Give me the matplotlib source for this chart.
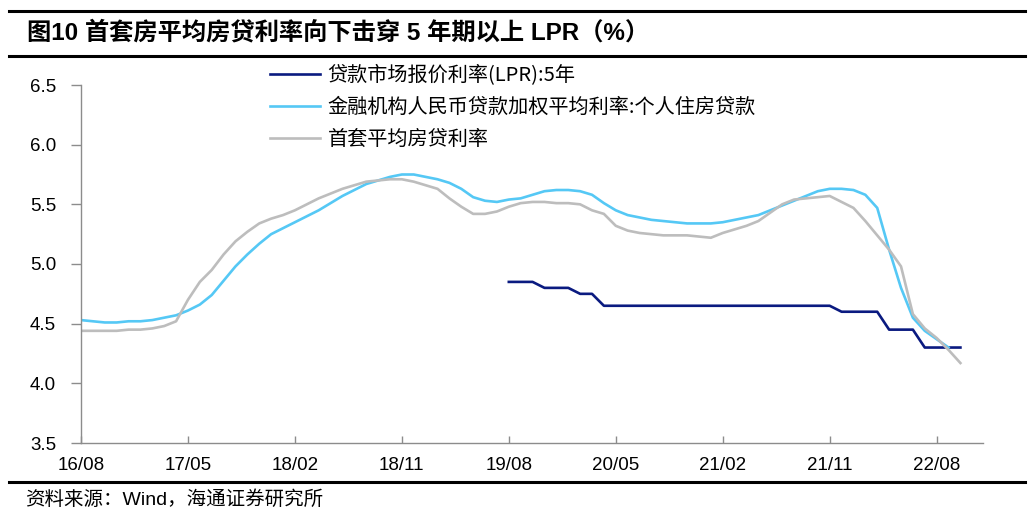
import numpy as np
import matplotlib
matplotlib.use('Agg')
import matplotlib.pyplot as plt
from matplotlib.lines import Line2D

plt.rcParams['font.family'] = ['Liberation Sans', 'Noto Sans CJK SC', 'DejaVu Sans']

# 月份序号：0 = 2016/08
tick_pos = [0, 9, 18, 27, 36, 45, 54, 63, 72]
tick_labels = ['16/08', '17/05', '18/02', '18/11', '19/08', '20/05', '21/02', '21/11', '22/08']

# 首套平均房贷利率 2016/08 - 2022/10
first_home = [4.44, 4.44, 4.44, 4.44, 4.45, 4.45, 4.46, 4.48, 4.52, 4.70,
              4.85, 4.95, 5.08, 5.19, 5.27, 5.34, 5.38, 5.41, 5.45, 5.50,
              5.55, 5.59, 5.63, 5.66, 5.69, 5.70, 5.71, 5.71, 5.69, 5.66,
              5.63, 5.55, 5.48, 5.42, 5.42, 5.44, 5.48, 5.51, 5.52, 5.52,
              5.51, 5.51, 5.50, 5.45, 5.42, 5.32, 5.28, 5.26, 5.25, 5.24,
              5.24, 5.24, 5.23, 5.22, 5.26, 5.29, 5.32, 5.36, 5.43, 5.50,
              5.54, 5.55, 5.56, 5.57, 5.52, 5.47, 5.36, 5.24, 5.12, 4.98,
              4.58, 4.46, 4.38, 4.28, 4.17]

# 金融机构人民币贷款加权平均利率:个人住房贷款 2016/08 - 2022/09
weighted = [4.53, 4.52, 4.51, 4.51, 4.52, 4.52, 4.53, 4.55, 4.57, 4.61,
            4.66, 4.74, 4.86, 4.98, 5.08, 5.17, 5.25, 5.30, 5.35, 5.40,
            5.45, 5.51, 5.57, 5.62, 5.67, 5.70, 5.73, 5.75, 5.75, 5.73,
            5.71, 5.68, 5.63, 5.56, 5.53, 5.52, 5.54, 5.55, 5.58, 5.61,
            5.62, 5.62, 5.61, 5.58, 5.51, 5.45, 5.41, 5.39, 5.37, 5.36,
            5.35, 5.34, 5.34, 5.34, 5.35, 5.37, 5.39, 5.41, 5.45, 5.49,
            5.53, 5.57, 5.61, 5.63, 5.63, 5.62, 5.58, 5.47, 5.12, 4.80,
            4.55, 4.44, 4.37, 4.30]

# 贷款市场报价利率(LPR):5年 2019/08 - 2022/10
lpr_start = 36
lpr = [4.85, 4.85, 4.85, 4.80, 4.80, 4.80, 4.75, 4.75,
       4.65, 4.65, 4.65, 4.65, 4.65, 4.65, 4.65, 4.65, 4.65, 4.65,
       4.65, 4.65, 4.65, 4.65, 4.65, 4.65, 4.65, 4.65, 4.65, 4.65,
       4.60, 4.60, 4.60, 4.60, 4.45, 4.45, 4.45, 4.30, 4.30, 4.30, 4.30]

fig = plt.figure(figsize=(10.34, 5.16), dpi=100)
ax = fig.add_axes([81 / 1034, 1 - 443 / 516, 902 / 1034, 358 / 516])

x_first = np.arange(len(first_home))
x_weighted = np.arange(len(weighted))
x_lpr = np.arange(lpr_start, lpr_start + len(lpr))

ax.plot(x_lpr, lpr, color='#0A1A80', lw=1.9, label='贷款市场报价利率(LPR):5年')
ax.plot(x_weighted, weighted, color='#55C8F5', lw=1.9, label='金融机构人民币贷款加权平均利率:个人住房贷款')
ax.plot(x_first, first_home, color='#BDBDBD', lw=1.9, label='首套平均房贷利率')

ax.set_xlim(0, 75.9)
ax.set_ylim(3.5, 6.5)
ax.set_yticks(np.arange(3.5, 6.51, 0.5))
ax.set_yticklabels(['%.1f' % v for v in np.arange(3.5, 6.51, 0.5)])
ax.set_xticks(tick_pos)
ax.set_xticklabels(tick_labels)

for s in ['top', 'right']:
    ax.spines[s].set_visible(False)
for s in ['left', 'bottom']:
    ax.spines[s].set_color('#8C8C8C')
    ax.spines[s].set_linewidth(1.0)

ax.tick_params(axis='y', direction='out', length=7, width=1, color='#8C8C8C',
               labelsize=13.5, pad=11)
ax.tick_params(axis='x', direction='in', length=5, width=1, color='#8C8C8C',
               labelsize=13.5, pad=10)

leg = ax.legend(loc='upper left', bbox_to_anchor=(270 / 1034, 1 - 65 / 516),
                bbox_transform=fig.transFigure, frameon=False, fontsize=14.5,
                handlelength=2.5, handletextpad=0.35, labelspacing=0.55,
                borderpad=0, borderaxespad=0)
for t in leg.get_texts():
    t.set_family(['Noto Sans CJK SC', 'Liberation Sans'])

# 标题与来源
fig.text(27 / 1034, 1 - 33 / 516, '图10 首套房平均房贷利率向下击穿 5 年期以上 LPR（%）',
         fontsize=17.5, fontweight='bold', va='center', ha='left')
fig.text(25 / 1034, 1 - 500 / 516, '资料来源：Wind，海通证券研究所',
         fontsize=14, va='center', ha='left')

fig.add_artist(Line2D([9 / 1034, 1025 / 1034], [1 - 11 / 516, 1 - 11 / 516],
                      color='black', lw=2.2, transform=fig.transFigure))
fig.add_artist(Line2D([9 / 1034, 1025 / 1034], [1 - 56 / 516, 1 - 56 / 516],
                      color='black', lw=2.2, transform=fig.transFigure))
fig.add_artist(Line2D([9 / 1034, 1025 / 1034], [1 - 482 / 516, 1 - 482 / 516],
                      color='black', lw=2.2, transform=fig.transFigure))

fig.savefig('out.png', dpi=100)
